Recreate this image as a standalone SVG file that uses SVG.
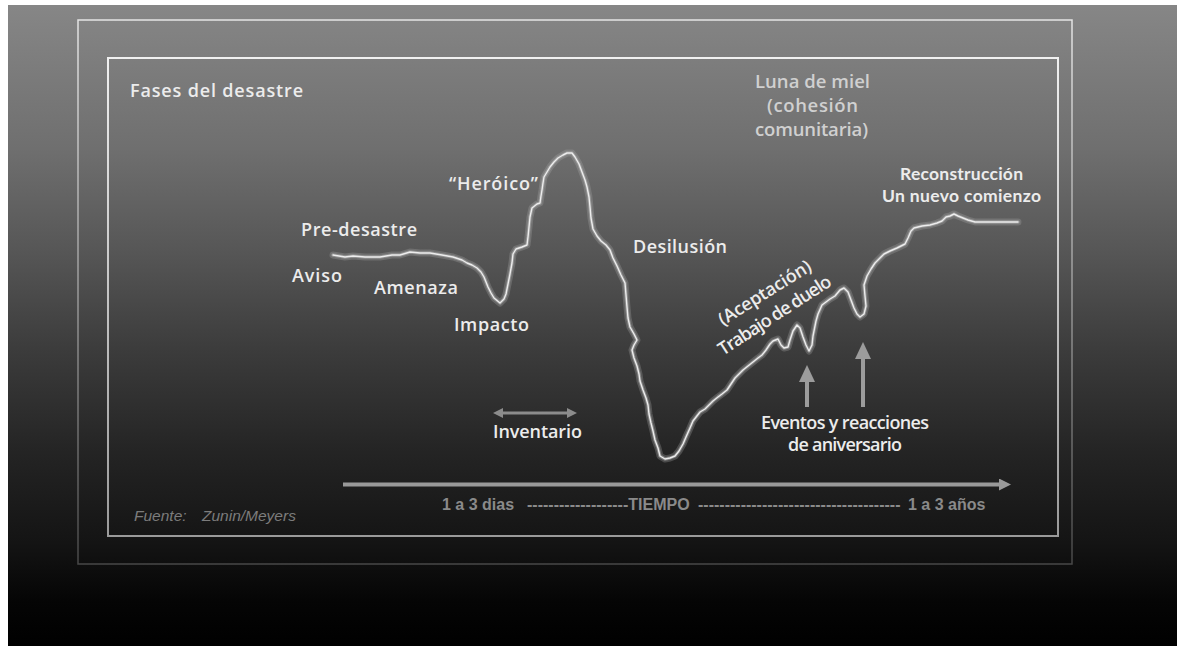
<svg xmlns="http://www.w3.org/2000/svg" width="1177" height="646" viewBox="0 0 1177 646">
  <defs>
    <linearGradient id="bg" x1="0" y1="0" x2="0" y2="646" gradientUnits="userSpaceOnUse">
      <stop offset="0" stop-color="#878787"/>
      <stop offset="0.23" stop-color="#6f6f6f"/>
      <stop offset="0.39" stop-color="#565656"/>
      <stop offset="0.54" stop-color="#3c3c3c"/>
      <stop offset="0.70" stop-color="#242424"/>
      <stop offset="0.84" stop-color="#141414"/>
      <stop offset="0.93" stop-color="#050505"/>
      <stop offset="1" stop-color="#000000"/>
    </linearGradient>
    <linearGradient id="outerStroke" x1="0" y1="20" x2="0" y2="564" gradientUnits="userSpaceOnUse">
      <stop offset="0" stop-color="#e4e4e4"/>
      <stop offset="0.5" stop-color="#9a9a9a"/>
      <stop offset="1" stop-color="#474747"/>
    </linearGradient>
    <linearGradient id="innerStroke" x1="0" y1="58" x2="0" y2="536" gradientUnits="userSpaceOnUse">
      <stop offset="0" stop-color="#f0f0f0"/>
      <stop offset="0.5" stop-color="#c4c4c4"/>
      <stop offset="1" stop-color="#9a9a9a"/>
    </linearGradient>
    <marker id="headBig" viewBox="0 0 17 16" markerWidth="17" markerHeight="16" refX="1" refY="8" orient="auto" markerUnits="userSpaceOnUse">
      <path d="M0,0 L17,8 L0,16 z" fill="#9c9c9c"/>
    </marker>
    <marker id="headTime" viewBox="0 0 12 12" markerWidth="12" markerHeight="12" refX="1" refY="6" orient="auto" markerUnits="userSpaceOnUse">
      <path d="M0,0 L12,6 L0,12 z" fill="#999"/>
    </marker>
    <marker id="headSmall" viewBox="0 0 10 10" markerWidth="10" markerHeight="10" refX="1" refY="5" orient="auto-start-reverse" markerUnits="userSpaceOnUse">
      <path d="M0,0 L10,5 L0,10 z" fill="#8c8c8c"/>
    </marker>
    <path id="curvePath" d="M333,255 L345,257 L353,256 L365,257 L380,257 L392,255 L400,255 L410,252 L420,253 L430,253 L442,255 L453,257 L462,260 L467,263 L472,265 L477,268 L481,272 L484,277 L486,282 L488,287 L491,293 L494,298 L500,303 L504,299 L506,294 L508,284 L510,274 L512,263 L513,254 L516,249 L522,247 L527,245 L528,237 L529,227 L530,217 L532,208 L537,204 L540,203 L541,196 L542,190 L543,183 L544,177 L547,172 L550,167 L554,162 L558,158 L563,155 L567,153 L572,153 L575,157 L579,164 L582,172 L585,180 L587,187 L589,197 L590,207 L591,218 L593,229 L597,236 L601,241 L606,245 L610,250 L613,258 L617,266 L621,275 L625,283 L626,295 L627,307 L628,318 L630,327 L634,334 L637,340 L634,345 L632,350 L634,358 L637,366 L639,374 L640,381 L643,390 L646,398 L648,405 L649,414 L651,423 L653,431 L655,440 L658,448 L660,456 L665,459 L670,458 L675,456 L679,451 L683,444 L686,437 L690,428 L693,421 L700,412 L705,409 L708,406 L713,401 L718,397 L722,394 L727,390 L731,384 L735,378 L739,374 L743,370 L748,366 L753,362 L758,358 L762,355 L766,350 L770,344 L773,341 L778,339 L781,345 L784,348 L788,347 L790,340 L793,331 L797,325 L800,328 L803,337 L806,345 L809,351 L812,345 L813,336 L816,321 L818,314 L822,305 L826,302 L830,299 L835,296 L840,290 L844,288 L848,292 L851,300 L854,308 L857,314 L860,317 L864,314 L866,306 L865,296 L864,285 L867,276 L871,269 L875,263 L880,258 L884,254 L890,251 L897,248 L905,244 L908,238 L911,231 L914,228 L922,226 L930,225 L937,223 L942,221 L946,217 L950,216 L954,214 L958,216 L963,218 L968,220 L975,222 L990,222 L1005,222 L1018,222"/>
  </defs>
  <style>
    .lbl { font-family: "Open Sans", Lato, "Liberation Sans", sans-serif; font-weight: 600; fill: #ececec; font-size: 18px; }
    .lbl2 { font-family: Lato, "Open Sans", "Liberation Sans", sans-serif; font-weight: 700; fill: #ececec; font-size: 17.5px; }
    .luna { font-family: "Open Sans", Lato, "Liberation Sans", sans-serif; font-weight: 600; fill: #d0d0d0; font-size: 18.5px; }
    .axis { font-family: "Liberation Sans", Arial, sans-serif; font-weight: 700; fill: #8a8a8a; font-size: 16px; }
    .src { font-family: "Liberation Sans", Arial, sans-serif; font-style: italic; fill: #7c7c7c; font-size: 15.5px; }
    .glow { fill: none; stroke: #a8a8a8; stroke-opacity: 0.3; stroke-width: 7; stroke-linejoin: round; stroke-linecap: round; }
    .mid { fill: none; stroke: #bcbcbc; stroke-opacity: 0.45; stroke-width: 3.5; stroke-linejoin: round; stroke-linecap: round; }
    .core { fill: none; stroke: #ededed; stroke-width: 1.4; stroke-linejoin: round; stroke-linecap: round; }
  </style>

  <!-- background -->
  <rect x="0" y="0" width="1177" height="646" fill="#ffffff"/>
  <rect x="8" y="5" width="1169" height="641" fill="url(#bg)"/>

  <!-- frames -->
  <rect x="78" y="20" width="994" height="544" fill="none" stroke="url(#outerStroke)" stroke-width="1.5"/>
  <rect x="108" y="58" width="950" height="478" fill="none" stroke="url(#innerStroke)" stroke-width="2"/>

  <g id="title"><text class="lbl" x="130" y="97" font-size="19.5" textLength="173">Fases del desastre</text></g>

  <g id="luna-de-miel">
    <text class="luna" x="812.5" y="88" text-anchor="middle" textLength="115">Luna de miel</text>
    <text class="luna" x="812.5" y="112" text-anchor="middle" textLength="91">(cohesión</text>
    <text class="luna" x="811.5" y="136" text-anchor="middle" textLength="113">comunitaria)</text>
  </g>

  <g id="reconstruccion">
    <text class="lbl2" x="961.5" y="180" text-anchor="middle" textLength="123">Reconstrucción</text>
    <text class="lbl2" x="961.5" y="201.5" text-anchor="middle" textLength="159">Un nuevo comienzo</text>
  </g>

  <g id="heroico"><text class="lbl" x="449" y="190" textLength="89">“Heróico”</text></g>
  <g id="pre-desastre"><text class="lbl" x="301" y="236" textLength="116">Pre-desastre</text></g>
  <g id="aviso"><text class="lbl" x="292" y="282" textLength="50">Aviso</text></g>
  <g id="amenaza"><text class="lbl" x="374" y="294" textLength="84">Amenaza</text></g>
  <g id="impacto"><text class="lbl" x="454" y="331" textLength="75">Impacto</text></g>
  <g id="desilusion"><text class="lbl" x="633" y="253" textLength="94">Desilusión</text></g>
  <g id="inventario"><text class="lbl" x="493" y="438" textLength="89">Inventario</text></g>

  <g id="trabajo-duelo">
    <text class="lbl" transform="translate(723,326) rotate(-32)" textLength="106">(Aceptación)</text>
    <text class="lbl" transform="translate(723,356) rotate(-33)" textLength="131">Trabajo de duelo</text>
  </g>

  <g id="aniversario">
    <text class="lbl" x="845" y="429" text-anchor="middle" textLength="168">Eventos y reacciones</text>
    <text class="lbl" x="845" y="451" text-anchor="middle" textLength="114">de aniversario</text>
  </g>

  <g id="tiempo">
    <text class="axis" y="510"><tspan x="442">1 a 3 dias</tspan><tspan x="527">-------------------TIEMPO</tspan><tspan x="698">--------------------------------------</tspan><tspan x="908">1 a 3 años</tspan></text>
  </g>

  <g id="fuente">
    <text class="src" y="521"><tspan x="134">Fuente:</tspan><tspan x="202">Zunin/Meyers</tspan></text>
  </g>

  <g id="connectors">
    <g id="curve">
      <use href="#curvePath" class="glow"/>
      <use href="#curvePath" class="mid"/>
      <use href="#curvePath" class="core"/>
    </g>
    <line id="arrow-inventario" x1="502" y1="413" x2="568" y2="413" stroke="#8c8c8c" stroke-width="3" marker-start="url(#headSmall)" marker-end="url(#headSmall)"/>
    <line id="arrow-aniv-1" x1="807" y1="407" x2="807" y2="381" stroke="#9c9c9c" stroke-width="4" marker-end="url(#headBig)"/>
    <line id="arrow-aniv-2" x1="863" y1="407" x2="863" y2="358" stroke="#9c9c9c" stroke-width="4" marker-end="url(#headBig)"/>
    <line id="arrow-tiempo" x1="343" y1="484.5" x2="1000" y2="484.5" stroke="#999" stroke-width="4" marker-end="url(#headTime)"/>
  </g>
</svg>
